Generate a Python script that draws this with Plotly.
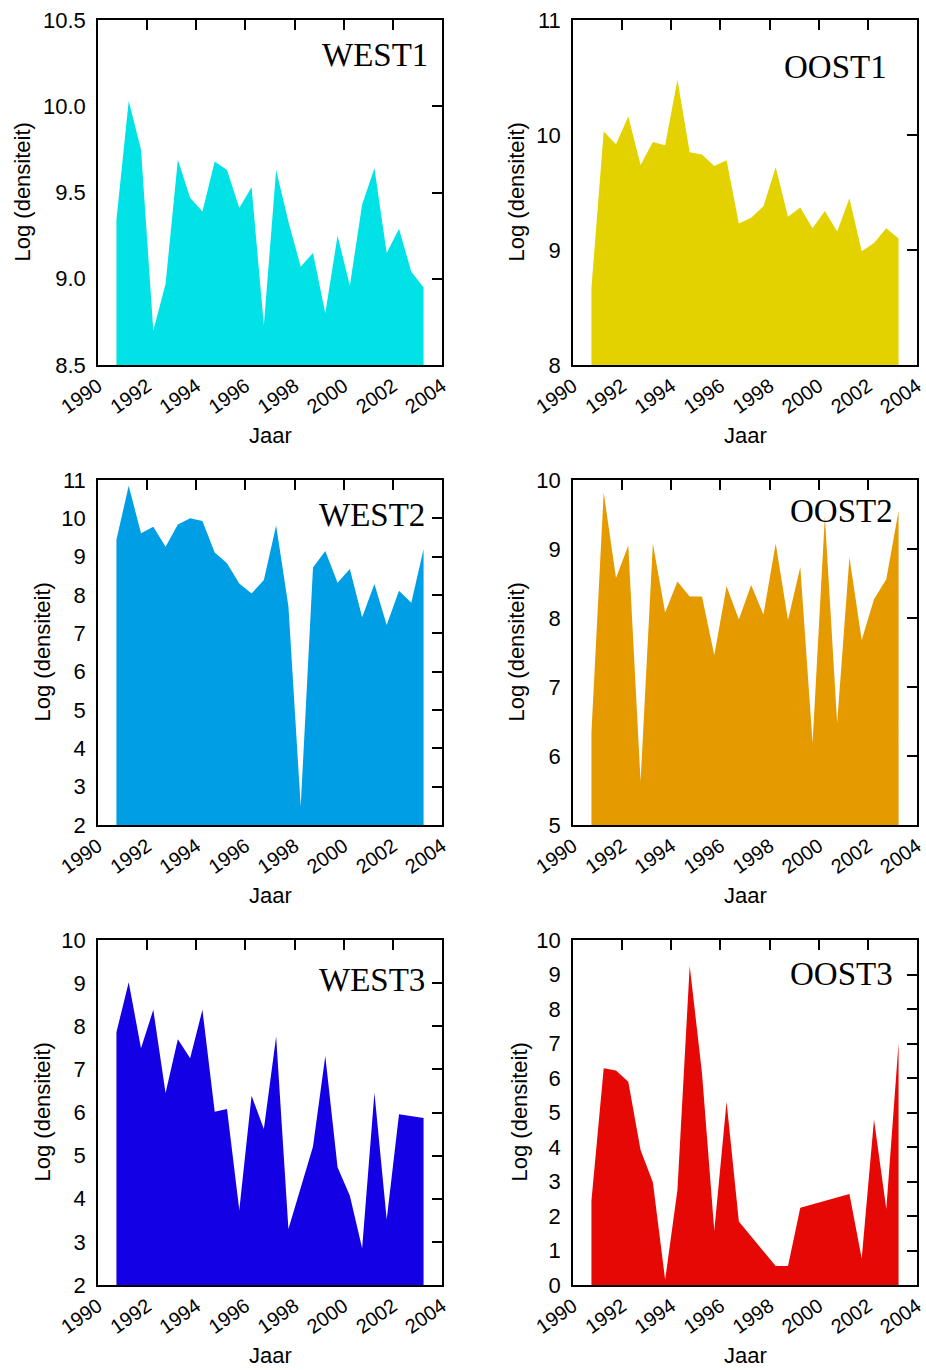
import plotly.graph_objects as go

# Sampling moments (half-yearly surveys)
YEARS = [1990.75, 1991.25, 1991.75, 1992.25, 1992.75, 1993.25, 1993.75, 1994.25,
         1994.75, 1995.25, 1995.75, 1996.25, 1996.75, 1997.25, 1997.75, 1998.25,
         1998.75, 1999.25, 1999.75, 2000.25, 2000.75, 2001.25, 2001.75, 2002.25,
         2002.75, 2003.25]

# Log densities per station (None = no sample, line bridges the gap)
west1 = [9.34, 10.03, 9.75, 8.70, 8.97, 9.69, 9.47, 9.39, 9.68, 9.63, 9.41, 9.53,
         8.73, 9.63, 9.33, 9.07, 9.15, 8.80, 9.25, 8.96, 9.43, 9.64, 9.15, 9.29,
         9.04, 8.95]
oost1 = [8.67, 10.03, 9.92, 10.16, 9.74, 9.94, 9.91, 10.48, 9.85, 9.83, 9.73, 9.78,
         9.23, 9.28, 9.38, 9.72, 9.29, 9.37, 9.19, 9.34, 9.16, 9.45, 8.99, 9.06,
         9.19, 9.10]
west2 = [9.44, 10.85, 9.61, 9.78, 9.26, 9.84, 10.00, 9.93, 9.11, 8.83, 8.30, 8.04,
         8.39, 9.81, 7.70, 2.48, 8.72, 9.15, 8.32, 8.68, 7.42, 8.29, 7.22, 8.11,
         7.80, 9.20]
oost2 = [6.34, 9.82, 8.58, 9.05, 5.63, 9.08, 8.08, 8.53, 8.31, 8.31, 7.46, 8.46,
         7.98, 8.48, 8.05, 9.08, 7.97, 8.74, 6.19, 9.47, 6.48, 8.88, 7.68, 8.27,
         8.56, 9.55]
west3 = [7.86, 9.02, 7.49, 8.38, 6.45, 7.70, 7.26, 8.38, 6.02, 6.08, 3.74, 6.39,
         5.62, 7.76, 3.30, 4.28, 5.21, 7.31, 4.73, 4.07, 2.85, 6.46, 3.52, 5.96,
         None, 5.87]
oost3 = [2.44, 6.28, 6.22, 5.89, 3.91, 2.98, 0.15, 2.75, 9.25, 6.14, 1.57, 5.31,
         1.84, None, None, 0.55, 0.55, 2.24, None, None, None, 2.64, 0.77, 4.80,
         2.20, 7.01]

STATIONS = ["WEST1", "OOST1", "WEST2", "OOST2", "WEST3", "OOST3"]
SERIES = [west1, oost1, west2, oost2, west3, oost3]
COLORS = ["#00E2E6", "#E4D200", "#009EE5", "#E59A00", "#1400E4", "#E60804"]
Y_RANGES = [[8.5, 10.5], [8, 11], [2, 11], [5, 10], [2, 10], [0, 10]]
Y_STEPS = [0.5, 1, 1, 1, 1, 1]
X_TICKS = [1990, 1992, 1994, 1996, 1998, 2000, 2002, 2004]

W, H = 926, 1370
COL_PX = [(98, 442), (573, 917)]
ROW_PX = [(20, 365), (480, 825), (940, 1285)]
# label placement (pixels): station name right edge / vertical centre, y-title centre
NAME_POS = [(430, 55), (889, 67), (427, 515), (895, 511), (427, 980), (895, 974)]
YTITLE_X = [22, 516, 42, 516, 42, 519]

SANS = "Liberation Sans, Arial, sans-serif"
SERIF = "Liberation Serif, Times New Roman, serif"

fig = go.Figure()
annotations = []

for i in range(6):
    n = i + 1
    col, row = i % 2, i // 2
    x0, x1 = COL_PX[col]
    y0, y1 = ROW_PX[row]
    xdom = [x0 / W, x1 / W]
    ydom = [1 - y1 / H, 1 - y0 / H]
    lo, hi = Y_RANGES[i]
    step = Y_STEPS[i]
    nt = int(round((hi - lo) / step))
    yticks = [lo + k * step for k in range(nt + 1)]
    labels = [f"{v:.1f}" if step < 1 else str(int(v)) for v in yticks]

    fig.add_trace(go.Scatter(
        x=YEARS, y=SERIES[i], mode="lines", fill="tozeroy",
        fillcolor=COLORS[i], line=dict(width=0, color=COLORS[i]),
        connectgaps=True, showlegend=False, hoverinfo="x+y",
        xaxis=f"x{n}", yaxis=f"y{n}",
    ))
    # empty trace hooking up the mirrored tick axes (top / right)
    fig.add_trace(go.Scatter(
        x=[None], y=[None], mode="lines", showlegend=False, hoverinfo="skip",
        xaxis=f"x{n + 6}", yaxis=f"y{n + 6}",
    ))

    fig.layout[f"xaxis{n}"] = dict(
        domain=xdom, anchor=f"y{n}", range=[1990, 2004], automargin=False,
        tickmode="array", tickvals=X_TICKS, ticks="", tickangle=-35,
        tickfont=dict(family=SANS, size=20, color="black"),
        showline=True, mirror=True, linecolor="black", linewidth=1.5,
        showgrid=False, zeroline=False, fixedrange=True,
    )
    fig.layout[f"yaxis{n}"] = dict(
        domain=ydom, anchor=f"x{n}", range=[lo, hi], automargin=False,
        tickmode="array", tickvals=yticks, ticktext=labels,
        ticks="", ticklabelstandoff=6,
        tickfont=dict(family=SANS, size=22, color="black"),
        showline=True, mirror=True, linecolor="black", linewidth=1.5,
        showgrid=False, zeroline=False, fixedrange=True,
    )
    fig.layout[f"xaxis{n + 6}"] = dict(
        overlaying=f"x{n}", side="top", anchor=f"y{n}", range=[1990, 2004],
        automargin=False,
        tickmode="array", tickvals=X_TICKS[1:-1], ticks="inside", ticklen=10,
        tickwidth=1.5, tickcolor="black", showticklabels=False,
        showline=False, showgrid=False, zeroline=False, fixedrange=True,
    )
    fig.layout[f"yaxis{n + 6}"] = dict(
        overlaying=f"y{n}", side="right", anchor=f"x{n}", range=[lo, hi],
        automargin=False,
        tickmode="array", tickvals=yticks[1:-1], ticks="inside", ticklen=10,
        tickwidth=1.5, tickcolor="black", showticklabels=False,
        showline=False, showgrid=False, zeroline=False, fixedrange=True,
    )

    nx, ny = NAME_POS[i]
    annotations.append(dict(
        text=STATIONS[i], xref="paper", yref="paper", x=nx / W, y=1 - ny / H,
        xanchor="right", yanchor="middle", showarrow=False,
        font=dict(family=SERIF, size=33, color="black"),
    ))
    annotations.append(dict(
        text="Log (densiteit)", xref="paper", yref="paper",
        x=YTITLE_X[i] / W, y=1 - ((y0 + y1) / 2) / H, textangle=-90,
        xanchor="center", yanchor="middle", showarrow=False,
        font=dict(family=SANS, size=22, color="black"),
    ))
    annotations.append(dict(
        text="Jaar", xref="paper", yref="paper",
        x=((x0 + x1) / 2) / W, y=1 - (y1 + 70) / H,
        xanchor="center", yanchor="middle", showarrow=False,
        font=dict(family=SANS, size=22, color="black"),
    ))

fig.update_layout(
    template="none",
    width=W, height=H, margin=dict(l=0, r=0, t=0, b=0),
    paper_bgcolor="white", plot_bgcolor="white",
    annotations=annotations,
)

fig.write_html("out.html")
